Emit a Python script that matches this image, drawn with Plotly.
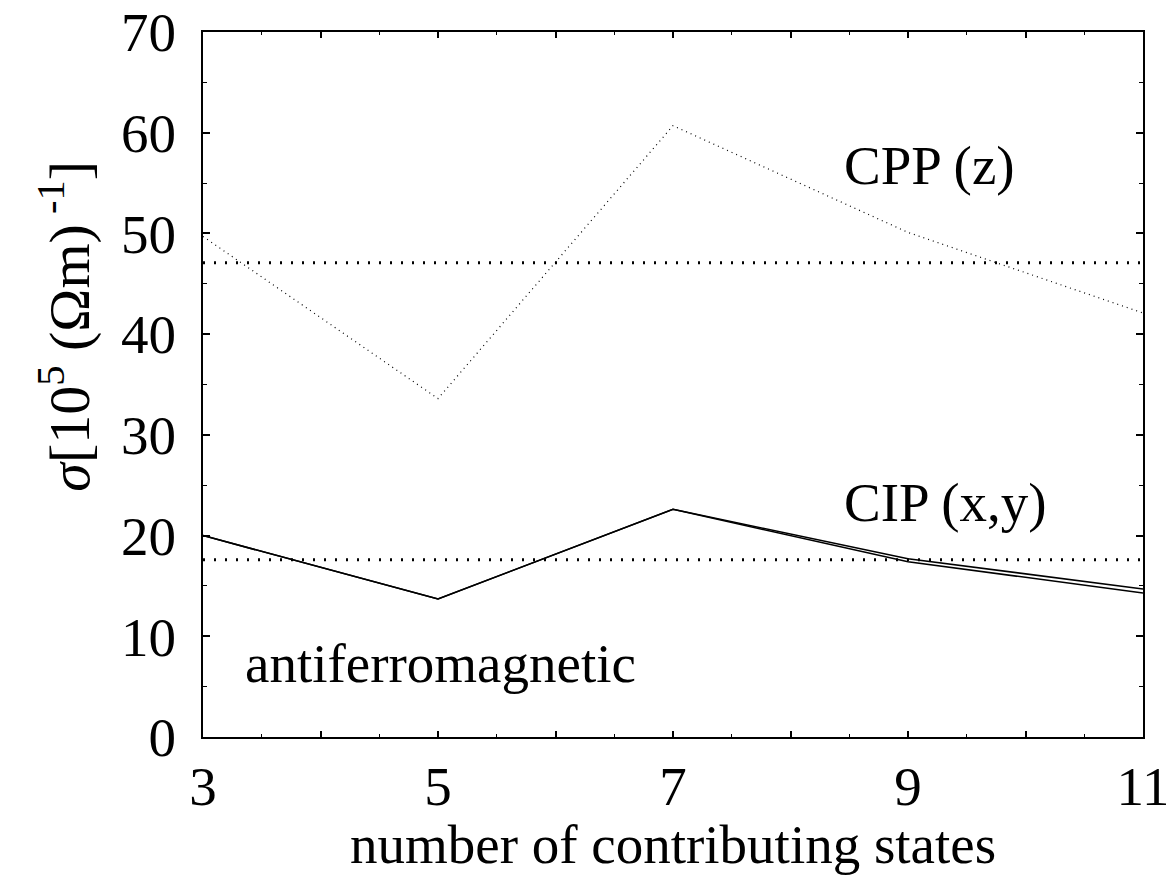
import plotly.graph_objects as go

states = [3, 5, 7, 9, 11]
cpp_z = [49.7, 33.6, 60.7, 50.1, 42.1]
cip_x = [20.0, 13.7, 22.6, 17.7, 14.7]
cip_y = [20.0, 13.7, 22.6, 17.4, 14.3]
cpp_mean = 47.1
cip_mean = 17.6

x_tickvals = [3, 4, 5, 6, 7, 8, 9, 10, 11]
x_ticktext = ["3", " ", "5", " ", "7", " ", "9", " ", "11"]
y_tickvals = [0, 10, 20, 30, 40, 50, 60, 70]

FONT = "Liberation Serif, Times New Roman, serif"

fig = go.Figure()
fig.add_trace(go.Scatter(x=states, y=cpp_z, mode="lines",
                         line=dict(color="black", width=1.2, dash="1px,4px")))
fig.add_trace(go.Scatter(x=[states[0], states[-1]], y=[cpp_mean, cpp_mean], mode="lines",
                         line=dict(color="black", width=3, dash="2px,9px")))
fig.add_trace(go.Scatter(x=[states[0], states[-1]], y=[cip_mean, cip_mean], mode="lines",
                         line=dict(color="black", width=3, dash="2px,9px")))
fig.add_trace(go.Scatter(x=states, y=cip_x, mode="lines",
                         line=dict(color="black", width=1.5)))
fig.add_trace(go.Scatter(x=states, y=cip_y, mode="lines",
                         line=dict(color="black", width=1.5)))

fig.add_annotation(x=8.44, y=56.7, text="CPP (z)", showarrow=False,
                   xanchor="left", yanchor="middle", font=dict(size=55, color="black", family=FONT))
fig.add_annotation(x=8.44, y=23.3, text="CIP (x,y)", showarrow=False,
                   xanchor="left", yanchor="middle", font=dict(size=55, color="black", family=FONT))
fig.add_annotation(x=3.34, y=7.25, text="antiferromagnetic", showarrow=False,
                   xanchor="left", yanchor="middle", font=dict(size=55, color="black", family=FONT))

# axis titles
fig.add_annotation(xref="paper", yref="paper", x=0.5, y=-0.152,
                   text="number of contributing states", showarrow=False,
                   xanchor="center", yanchor="middle", font=dict(size=55, color="black", family=FONT))
fig.add_annotation(xref="paper", yref="paper", x=0, y=0.582, xshift=-138,
                   text="<i>σ</i>[10<sup>5</sup> (Ωm)<sup> -1</sup>]", textangle=-90, showarrow=False,
                   xanchor="center", yanchor="middle", font=dict(size=58, color="black", family=FONT))

fig.update_layout(
    width=1166, height=869,
    margin=dict(l=195, r=31, t=24, b=140),
    paper_bgcolor="white", plot_bgcolor="white",
    showlegend=False,
    font=dict(family=FONT, size=55, color="black"),
    xaxis=dict(range=[3, 11], tickvals=x_tickvals, ticktext=x_ticktext,
               ticks="inside", ticklen=6, tickwidth=1.5, tickcolor="black",
               minor=dict(dtick=0.5, ticks="inside", ticklen=3, tickwidth=1, tickcolor="black"),
               showline=True, linecolor="black", linewidth=2, mirror="allticks",
               showgrid=False, zeroline=False, automargin=False, ticklabeloverflow="allow",
               tickfont=dict(size=55), ticklabelstandoff=0),
    yaxis=dict(range=[0, 70], tickvals=y_tickvals,
               ticks="inside", ticklen=7, tickwidth=1.5, tickcolor="black",
               minor=dict(dtick=5, ticks="inside", ticklen=4, tickwidth=1, tickcolor="black"),
               showline=True, linecolor="black", linewidth=2, mirror="allticks",
               showgrid=False, zeroline=False, automargin=False, ticklabeloverflow="allow",
               tickfont=dict(size=55), ticklabelstandoff=14),
)

fig.write_html("out.html")
